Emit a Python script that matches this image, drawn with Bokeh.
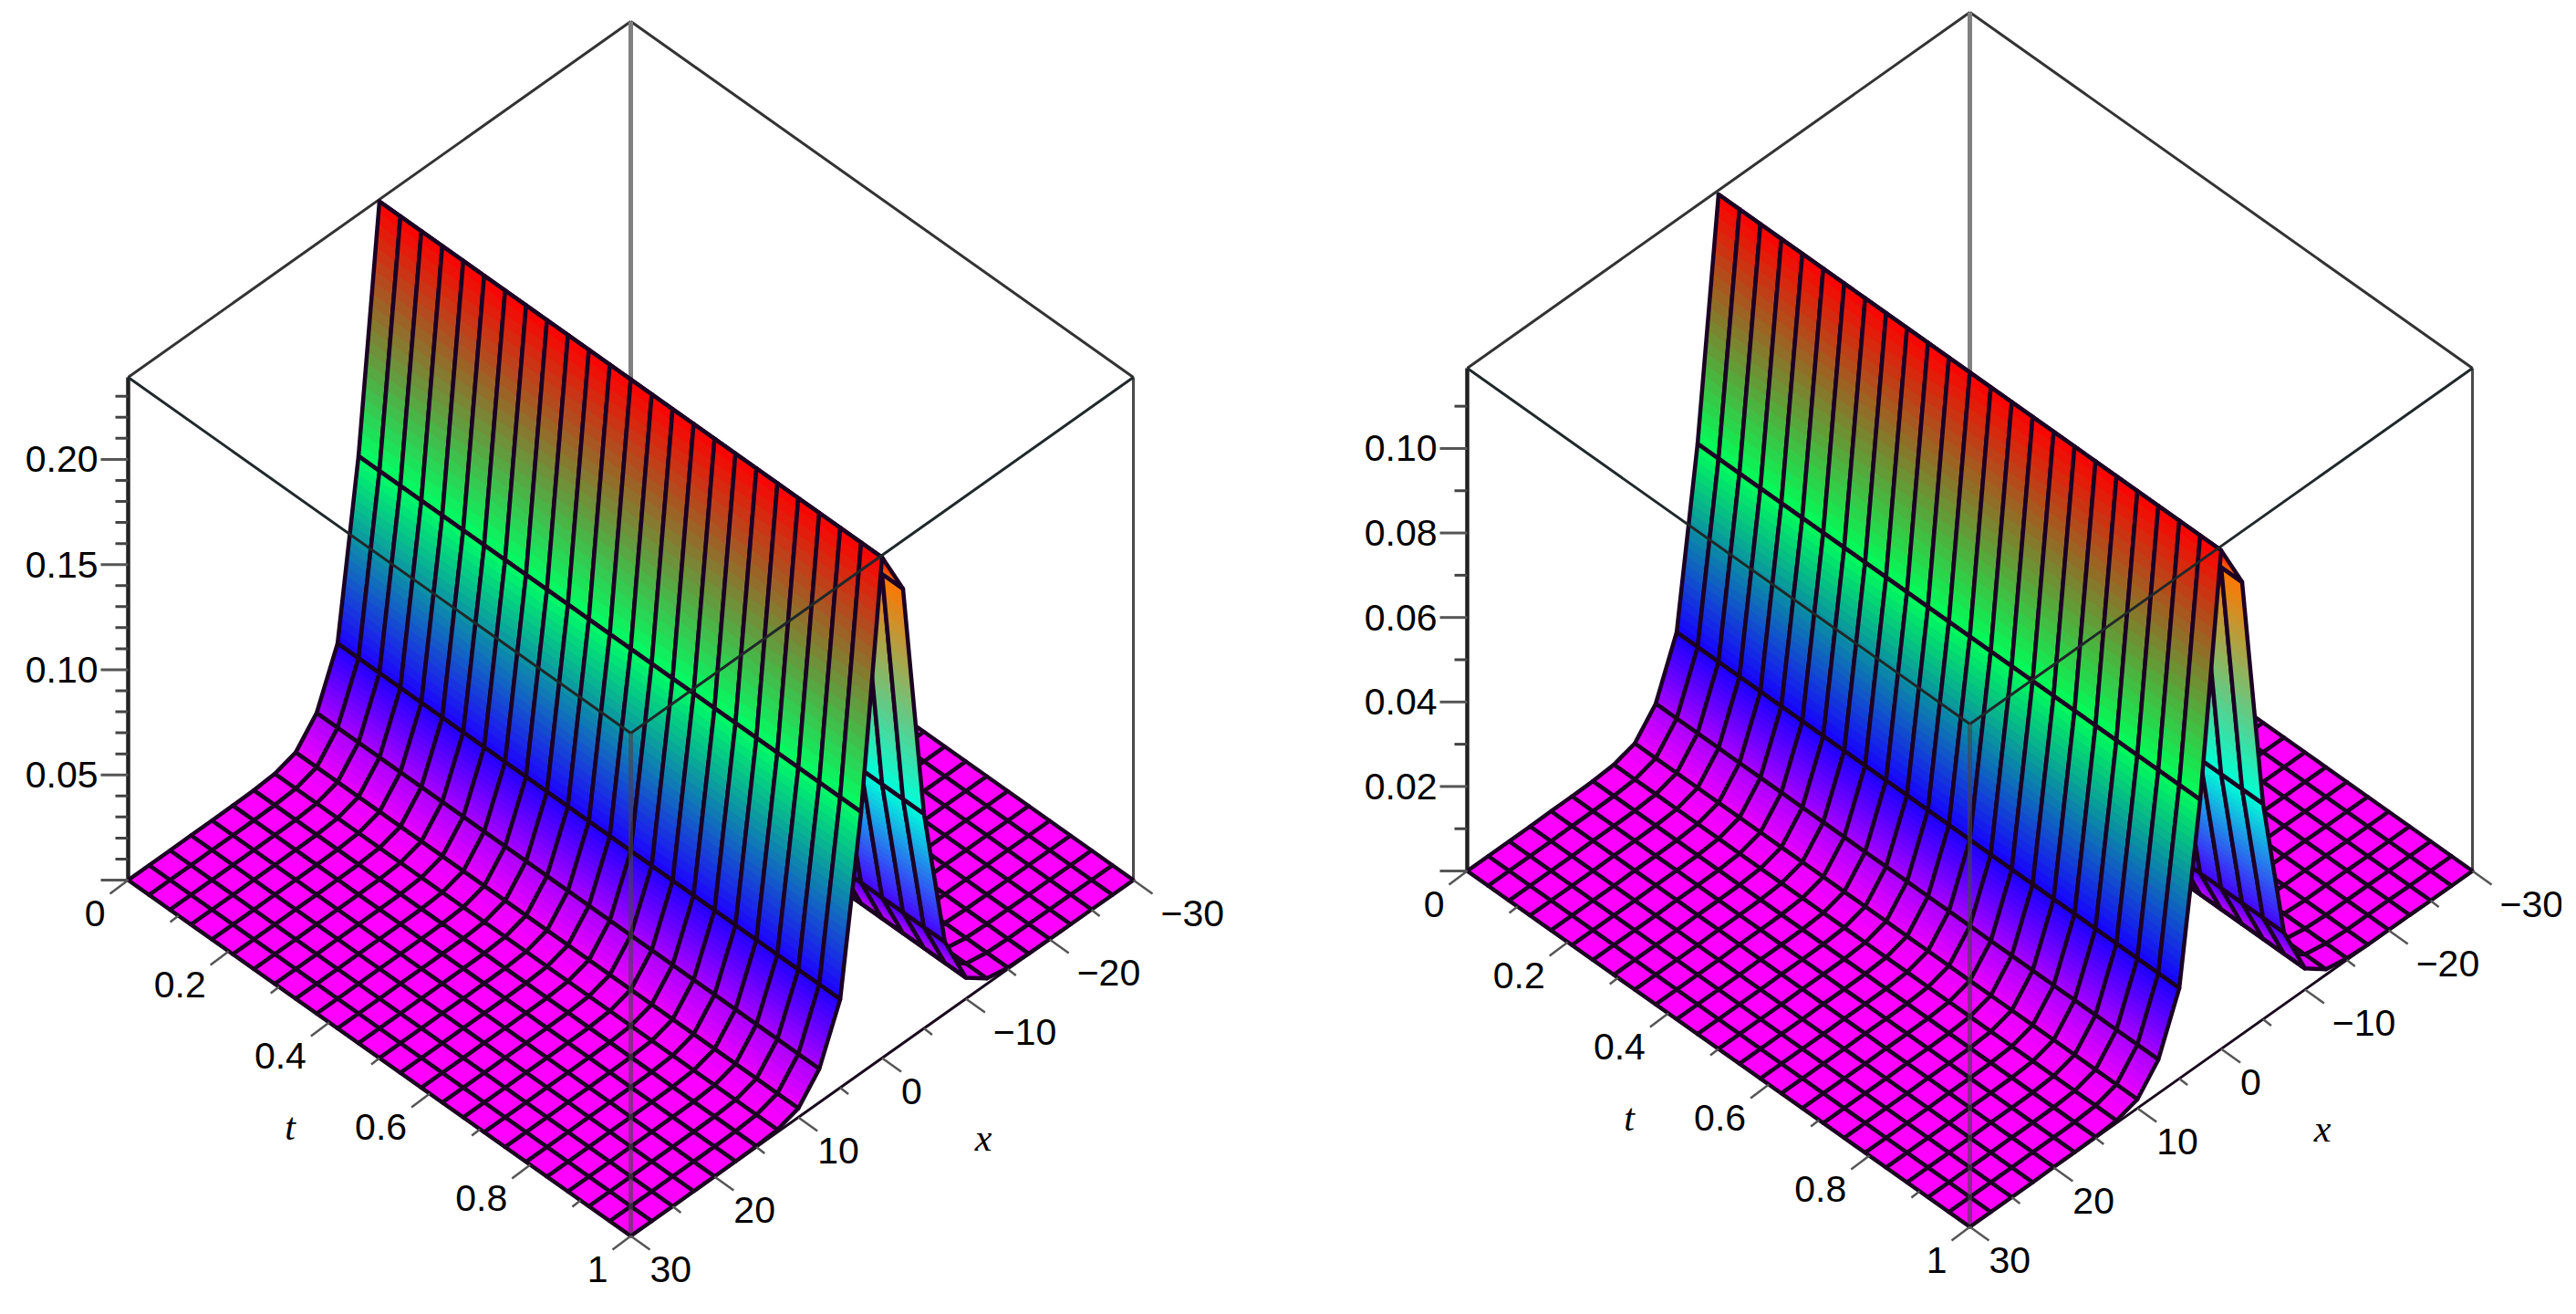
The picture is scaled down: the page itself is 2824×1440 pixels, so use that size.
import colorsys
import math

import numpy as np
from bokeh.core.properties import value
from bokeh.embed import file_html
from bokeh.layouts import row
from bokeh.models import ColumnDataSource, Range1d
from bokeh.plotting import figure
from bokeh.resources import INLINE

# surface grid, 25 x 25 nodes
t_values = [0, 0.0417, 0.0833, 0.125, 0.1667, 0.2083, 0.25, 0.2917, 0.3333, 0.375, 0.4167, 0.4583, 0.5,
            0.5417, 0.5833, 0.625, 0.6667, 0.7083, 0.75, 0.7917, 0.8333, 0.875, 0.9167, 0.9583, 1]
x_values = [-30, -27.5, -25, -22.5, -20, -17.5, -15, -12.5, -10, -7.5, -5, -2.5, 0,
            2.5, 5, 7.5, 10, 12.5, 15, 17.5, 20, 22.5, 25, 27.5, 30]

# height for each x, same along t
z_left = [0, 0, 0.0001, 0.0001, 0.0002, 0.0003, 0.0007, 0.0026, 0.010, 0.034, 0.102, 0.216, 0.238,
          0.124, 0.042, 0.016, 0.0043, 0.0012, 0.0004, 0.0002, 0.0001, 0.0001, 0, 0, 0]
z_right = [0, 0, 0, 0.0001, 0.0001, 0.0001, 0.0004, 0.0013, 0.005, 0.017, 0.051, 0.107, 0.118,
           0.0625, 0.0214, 0.008, 0.0021, 0.0006, 0.0002, 0.0001, 0.0001, 0, 0, 0, 0]

z_top_left = 0.239
z_top_right = 0.119

z_minor_left = [0.01, 0.02, 0.03, 0.04, 0.06, 0.07, 0.08, 0.09, 0.11, 0.12, 0.13, 0.14,
                0.16, 0.17, 0.18, 0.19, 0.21, 0.22, 0.23]
z_major_left = [0, 0.05, 0.10, 0.15, 0.20]
z_labels_left = ["", "0.05", "0.10", "0.15", "0.20"]

z_minor_right = [0.01, 0.03, 0.05, 0.07, 0.09, 0.11]
z_major_right = [0, 0.02, 0.04, 0.06, 0.08, 0.10]
z_labels_right = ["", "0.02", "0.04", "0.06", "0.08", "0.10"]

t_major = [0, 0.2, 0.4, 0.6, 0.8, 1]
t_minor = [0.1, 0.3, 0.5, 0.7, 0.9]
t_labels = ["0", "0.2", "0.4", "0.6", "0.8", "1"]

x_major = [30, 20, 10, 0, -10, -20, -30]
x_minor = [25, 15, 5, -5, -15, -25]
x_labels = ["30", "20", "10", "0", "\u221210", "\u221220", "\u221230"]

LABEL_FONT = value("Liberation Sans")
NAME_FONT = value("Liberation Serif")
LABEL_SIZE = "41px"


def vertex_colour(h):
    # zhue shading: magenta at the floor, red at the peak
    r, g, b = colorsys.hsv_to_rgb(300 * (1 - h) / 360, 1, 1)
    return np.array([r, g, b]) * 255


def to_hex(c):
    return "#%02x%02x%02x" % tuple(int(round(v)) for v in c)


def draw_panel(x_range, left, base, z_vals, z_top, z_major, z_labels, z_minor):
    half = 551
    drop = 390
    box_h = 551

    p = figure(width=1404, height=1424, x_range=Range1d(*x_range), y_range=Range1d(1424, 0),
               output_backend="svg", toolbar_location=None, x_axis_type=None, y_axis_type=None,
               min_border=0, outline_line_color=None)
    p.grid.visible = False

    def project(t, x, z):
        a = (30 - x) / 60
        sx = left + t * half + a * half
        sy = base + t * drop - a * drop - z / z_top * box_h
        return sx, sy

    def edge(t0, x0, z0, t1, x1, z1, color, width, alpha=1.0):
        a = project(t0, x0, z0)
        b = project(t1, x1, z1)
        p.line([a[0], b[0]], [a[1], b[1]], line_color=color, line_width=width, line_alpha=alpha)

    # back of the box, behind the surface
    edge(0, 30, z_top, 0, -30, z_top, "#333333", 3)
    edge(0, -30, z_top, 1, -30, z_top, "#333333", 3)
    edge(0, -30, 0, 0, -30, z_top, "#808080", 5)
    edge(1, -30, 0, 1, -30, z_top, "#4a4a4a", 3)
    edge(0, 30, 0, 0, 30, z_top, "#222222", 4.5)

    # painter's order: far rows first, and far x first inside a row
    xs, ys, fills, lines, widths, fill_alpha = [], [], [], [], [], []
    peak = max(z_vals)
    cols = [vertex_colour(z / peak) for z in z_vals]
    for j in range(len(t_values) - 1):
        t0, t1 = t_values[j], t_values[j + 1]
        for i in range(len(x_values) - 1):
            x0, x1 = x_values[i], x_values[i + 1]
            z0, z1 = z_vals[i], z_vals[i + 1]
            c0, c1 = cols[i], cols[i + 1]
            n = max(1, min(32, math.ceil(np.abs(c1 - c0).max() / 12)))
            for k in range(n):
                s0, s1 = k / n, (k + 1) / n
                xa, za = x0 + (x1 - x0) * s0, z0 + (z1 - z0) * s0
                xb, zb = x0 + (x1 - x0) * s1, z0 + (z1 - z0) * s1
                pts = [project(t0, xa, za), project(t0, xb, zb), project(t1, xb, zb), project(t1, xa, za)]
                col = to_hex(c0 + (c1 - c0) * (s0 + s1) / 2)
                xs.append([q[0] for q in pts])
                ys.append([q[1] for q in pts])
                fills.append(col)
                lines.append(col)
                widths.append(1)
                fill_alpha.append(1)
            # the grid lines of this cell
            pts = [project(t0, x0, z0), project(t0, x1, z1), project(t1, x1, z1), project(t1, x0, z0)]
            xs.append([q[0] for q in pts])
            ys.append([q[1] for q in pts])
            fills.append("#000000")
            lines.append("#1c0024")
            widths.append(4.5)
            fill_alpha.append(0)

    source = ColumnDataSource(data=dict(xs=xs, ys=ys, fill=fills, line=lines, width=widths, fa=fill_alpha))
    p.patches("xs", "ys", source=source, fill_color="fill", fill_alpha="fa", line_color="line",
              line_width="width", line_join="round")

    # front of the box, over the surface
    edge(0, 30, z_top, 1, 30, z_top, "#20282a", 3)
    edge(1, 30, z_top, 1, -30, z_top, "#20282a", 3)
    edge(1, 30, 0, 1, 30, z_top, "#444444", 5, 0.6)
    edge(0, 30, 0, 1, 30, 0, "#1a0a1e", 3)
    edge(1, 30, 0, 1, -30, 0, "#1a0a1e", 3)

    # z ticks
    for z in z_minor:
        sx, sy = project(0, 30, z)
        p.line([sx - 14, sx], [sy, sy], line_color="#444444", line_width=3)
    for z, label in zip(z_major, z_labels):
        sx, sy = project(0, 30, z)
        p.line([sx - 30, sx], [sy, sy], line_color="#555555", line_width=3)
        p.text([sx - 33], [sy], text=[label], text_align="right", text_baseline="middle",
               text_font=LABEL_FONT, text_font_size=LABEL_SIZE, text_color="#000000")

    # t ticks point away along -x, x ticks away along +t
    for t in t_minor:
        sx, sy = project(t, 30, 0)
        p.line([sx - 9, sx], [sy + 7, sy], line_color="#555555", line_width=2.5)
    for t, label in zip(t_major, t_labels):
        sx, sy = project(t, 30, 0)
        p.line([sx - 20, sx], [sy + 15, sy], line_color="#555555", line_width=2.5)
        p.text([sx - 25], [sy + 36], text=[label], text_align="right", text_baseline="middle",
               text_font=LABEL_FONT, text_font_size=LABEL_SIZE, text_color="#000000")
    for x in x_minor:
        sx, sy = project(1, x, 0)
        p.line([sx, sx + 9], [sy, sy + 7], line_color="#555555", line_width=2.5)
    for x, label in zip(x_major, x_labels):
        sx, sy = project(1, x, 0)
        p.line([sx, sx + 21], [sy, sy + 15], line_color="#555555", line_width=2.5)
        shift = 30 if x < 0 else 21
        p.text([sx + shift], [sy + 36], text=[label], text_align="left", text_baseline="middle",
               text_font=LABEL_FONT, text_font_size=LABEL_SIZE, text_color="#000000")

    # axis names
    sx, sy = project(0.5, 30, 0)
    p.text([sx - 98], [sy + 75], text=["t"], text_align="center", text_baseline="middle",
           text_font=NAME_FONT, text_font_style="italic", text_font_size="42px", text_color="#000000")
    sx, sy = project(1, 0, 0)
    p.text([sx + 111], [sy + 87], text=["x"], text_align="center", text_baseline="middle",
           text_font=NAME_FONT, text_font_style="italic", text_font_size="42px", text_color="#000000")
    return p


p1 = draw_panel((0, 1404), 140, 964, z_left, z_top_left, z_major_left, z_labels_left, z_minor_left)
p2 = draw_panel((1404, 2808), 1608, 954, z_right, z_top_right, z_major_right, z_labels_right, z_minor_right)
p = row(p1, p2)

open("out.html", "w").write(file_html(p, INLINE))
